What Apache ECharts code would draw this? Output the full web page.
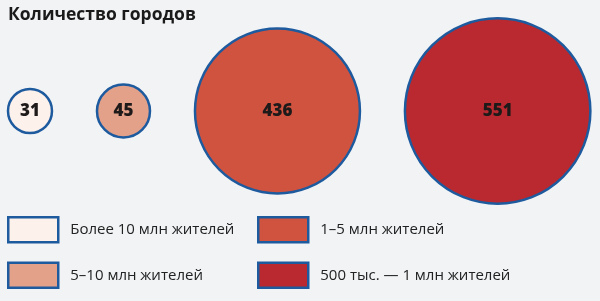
<!DOCTYPE html>
<html><head><meta charset="utf-8">
<script src="https://cdn.jsdelivr.net/npm/echarts@6/dist/echarts.min.js"></script>
<style>html,body{margin:0;padding:0;background:#f1f3f5}#c{width:600px;height:301px}</style>
</head><body><div id="c"></div>
<script>
const categories = ['Более 10 млн жителей', '5–10 млн жителей', '1–5 млн жителей', '500 тыс. — 1 млн жителей'];
const values = [31, 45, 436, 551];
const colors = ['#fdf1ec', '#e3a18a', '#d0533f', '#b9292f'];
const borderColor = '#1e5a9e';
const title = 'Количество городов';

const k = 3.95;            // radius per sqrt(value)
const gap = 45;            // gap between circles
const startX = 8;
const radii = values.map(v => k * Math.sqrt(v));
const xs = [];
let cur = startX;
radii.forEach(r => { xs.push(cur + r); cur += 2 * r + gap; });

const series = categories.map((name, i) => ({
  name, type: 'scatter',
  data: [[xs[i], 0.5, values[i]]],
  symbolSize: d => 2 * k * Math.sqrt(d[2]),
  itemStyle: { color: colors[i], borderColor, borderWidth: 2.5, opacity: 1 },
  label: { show: true, position: 'inside', formatter: p => p.value[2],
    fontFamily: 'Open Sans', fontWeight: 800, fontSize: 17, color: '#1e1a1a' },
  emphasis: { disabled: true }, silent: true
}));

const legendCommon = {
  orient: 'vertical', itemWidth: 50, itemHeight: 25, itemGap: 18, padding: 0,
  icon: 'rect', selectedMode: false,
  itemStyle: { borderColor, borderWidth: 2.5 },
  textStyle: { fontFamily: 'Open Sans', fontSize: 15, color: '#222', padding: [0, 0, 0, 7] }
};

const chart = echarts.init(document.getElementById('c'));
chart.setOption({
  backgroundColor: '#f1f3f5',
  animation: false,
  title: { text: title, left: 3, top: 1,
    textStyle: { fontFamily: 'Open Sans', fontWeight: 'bold', fontSize: 17.5, color: '#1a1a1a' } },
  grid: { left: 0, right: 0, top: 0, bottom: 79 },
  xAxis: { type: 'value', min: 0, max: 600, show: false },
  yAxis: { type: 'value', min: 0, max: 1, show: false },
  legend: [
    Object.assign({ left: 7, top: 216, data: [categories[0], categories[1]] }, legendCommon),
    Object.assign({ left: 257, top: 216, data: [categories[2], categories[3]] }, legendCommon)
  ],
  series
});
</script></body></html>
